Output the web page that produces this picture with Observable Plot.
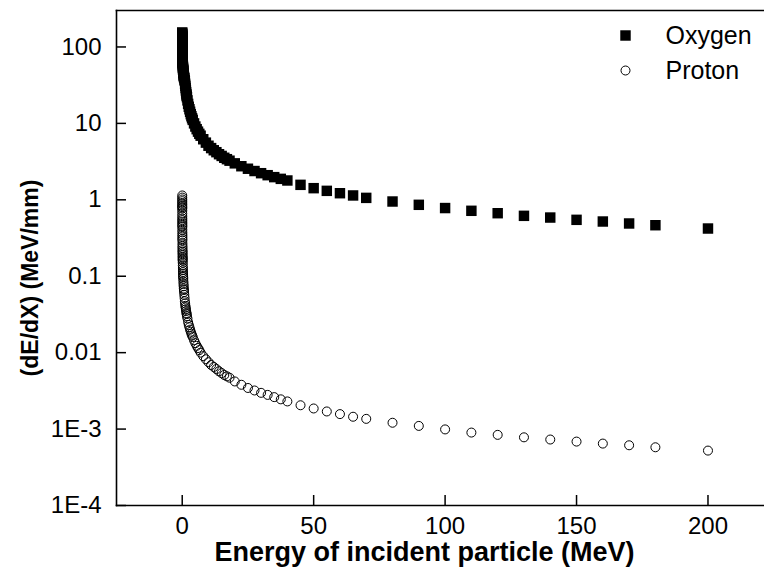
<!DOCTYPE html>
<html>
<head>
<meta charset="utf-8">
<script src="https://cdn.jsdelivr.net/npm/d3@7"></script>
<script src="https://cdn.jsdelivr.net/npm/@observablehq/plot@0.6"></script>
<style>
  html, body { margin: 0; padding: 0; background: #fff; overflow: hidden; }
  #chart { width: 764px; height: 579px; }
</style>
</head>
<body>
<div id="chart"></div>
<script>
// Incident particle energy (MeV)
const energy = [
  0.01,0.011,0.012,0.013,0.014,0.015,0.016,0.017,0.018,0.02,0.0225,0.025,0.0275,0.03,0.0325,0.035,0.0375,0.04,0.045,0.05,0.055,0.06,0.065,0.07,0.08,0.09,
  0.1,0.11,0.12,0.13,0.14,0.15,0.16,0.17,0.18,0.2,0.225,0.25,0.275,0.3,0.325,0.35,0.375,0.4,0.45,0.5,0.55,0.6,0.65,0.7,0.8,0.9,
  1,1.1,1.2,1.3,1.4,1.5,1.6,1.7,1.8,2,2.25,2.5,2.75,3,3.25,3.5,3.75,4,4.5,5,5.5,6,6.5,7,8,9,
  10,11,12,13,14,15,16,17,18,20,22.5,25,27.5,30,32.5,35,37.5,40,45,50,55,60,65,70,80,90,
  100,110,120,130,140,150,160,170,180,200
];
// dE/dX (MeV/mm) for oxygen
const oxygen = [
  155,150,146,142,139,137,134,132,129,125,121,117,114,110,107,105,103,100,97,93,91,88,86,84,81,78,
  75,73,71,69,67,66,65,63,62,60,58,56,54,53,51,50,49,48,46,45,43,42,41,40,39,37,
  36,33,31,29,27,25.5,24,23,22,20,18,16.5,15.3,14.2,13.2,12.4,11.7,11.1,10,9.1,8.4,7.8,7.3,6.9,6.2,5.6,
  5.1,4.75,4.45,4.2,3.95,3.75,3.55,3.4,3.25,3.0,2.75,2.55,2.38,2.23,2.1,1.98,1.88,1.79,1.57,1.42,1.31,1.22,1.14,1.06,0.95,0.86,
  0.78,0.718,0.668,0.617,0.586,0.547,0.52,0.49,0.465,0.421
];
// dE/dX (MeV/mm) for proton
const proton = [
  1.14,1.07,1.01,0.96,0.91,0.87,0.83,0.80,0.77,0.72,0.66,0.61,0.57,0.54,0.51,0.485,0.46,0.44,0.405,0.375,0.35,0.33,0.31,0.295,0.27,0.25,
  0.235,0.22,0.21,0.20,0.19,0.18,0.173,0.166,0.16,0.15,0.138,0.128,0.12,0.113,0.107,0.101,0.097,0.092,0.085,0.079,0.074,0.069,0.066,0.062,0.057,0.052,
  0.047,0.044,0.041,0.039,0.037,0.035,0.033,0.032,0.030,0.028,0.025,0.023,0.0215,0.020,0.0188,0.0177,0.0168,0.016,0.0145,0.0133,0.0123,0.0115,0.0108,0.0100,0.0090,0.0082,
  0.0075,0.0069,0.0065,0.0061,0.0057,0.0054,0.0051,0.0049,0.0047,0.0042,0.0038,0.00345,0.0032,0.00298,0.0028,0.00262,0.00245,0.0023,0.00205,0.00186,0.0017,0.00157,0.00145,0.00136,0.00121,0.0011,
  0.00099,0.0009,0.00084,0.00078,0.00073,0.000686,0.000646,0.000614,0.000578,0.000523
];
const seriesNames = ["Oxygen", "Proton"];
const xTickValues = [0, 50, 100, 150, 200];
const yTickValues = [1e-4, 1e-3, 0.01, 0.1, 1, 10, 100];
const yTickLabels = ["1E-4", "1E-3", "0.01", "0.1", "1", "10", "100"];
const xTitle = "Energy of incident particle (MeV)";
const yTitle = "(dE/dX) (MeV/mm)";

const oxygenData = energy.map((e, i) => ({E: e, v: oxygen[i]}));
const protonData = energy.map((e, i) => ({E: e, v: proton[i]}));

const W = 764, H = 579;
const mL = 116, mT = 10, mB = 74, mR = 0;
const plotW = W - mL - mR, plotH = H - mT - mB;
const font = "Liberation Sans, Arial, Helvetica, sans-serif";
const tickLen = 10;

const chart = Plot.plot({
  width: W,
  height: H,
  marginLeft: mL,
  marginTop: mT,
  marginBottom: mB,
  marginRight: mR,
  style: {fontFamily: font, color: "#000", background: "#fff", overflow: "visible"},
  x: {domain: [-25, 221.5]},
  y: {type: "log", domain: [1e-4, 300]},
  marks: [
    // axis labels
    Plot.axisX({ticks: xTickValues, tickSize: 0, tickPadding: 11, fontSize: 24, label: null}),
    Plot.axisY({ticks: yTickValues, tickFormat: d => yTickLabels[yTickValues.indexOf(d)], tickSize: 0, tickPadding: 15, fontSize: 24, label: null}),
    // inward ticks
    Plot.tickX(xTickValues, {x: d => d, insetTop: plotH - tickLen, stroke: "#000", strokeWidth: 1.5}),
    Plot.tickY(yTickValues, {y: d => d, insetRight: plotW - tickLen, stroke: "#000", strokeWidth: 1.5}),
    // frame: left, top, bottom
    Plot.frame({anchor: "left", stroke: "#000", strokeWidth: 1.6}),
    Plot.frame({anchor: "top", stroke: "#000", strokeWidth: 1.6}),
    Plot.frame({anchor: "bottom", stroke: "#000", strokeWidth: 1.6}),
    // data
    Plot.dot(oxygenData, {x: "E", y: "v", symbol: "square", r: 5.9, fill: "#000", stroke: "none"}),
    Plot.dot(protonData, {x: "E", y: "v", symbol: "circle", r: 4.5, fill: "none", stroke: "#000", strokeWidth: 1}),
    // legend
    Plot.dot([seriesNames[0]], {frameAnchor: "top-right", dx: -139, dy: 25, symbol: "square", r: 5.9, fill: "#000"}),
    Plot.dot([seriesNames[1]], {frameAnchor: "top-right", dx: -139, dy: 60, symbol: "circle", r: 4.5, fill: "none", stroke: "#000", strokeWidth: 1}),
    Plot.text([seriesNames[0]], {text: d => d, frameAnchor: "top-right", dx: -99, dy: 25, textAnchor: "start", lineAnchor: "middle", fontSize: 25, fill: "#000"}),
    Plot.text([seriesNames[1]], {text: d => d, frameAnchor: "top-right", dx: -99, dy: 60, textAnchor: "start", lineAnchor: "middle", fontSize: 25, fill: "#000"}),
    // axis titles
    Plot.text([xTitle], {text: d => d, frameAnchor: "bottom", dx: -16, dy: 47, textAnchor: "middle", lineAnchor: "middle", fontSize: 27, fontWeight: "bold", fill: "#000"}),
    Plot.text([yTitle], {text: d => d, frameAnchor: "left", dx: -86, dy: 20, rotate: -90, textAnchor: "middle", lineAnchor: "middle", fontSize: 23, fontWeight: "bold", fill: "#000"})
  ]
});
document.getElementById("chart").appendChild(chart);
</script>
</body>
</html>
